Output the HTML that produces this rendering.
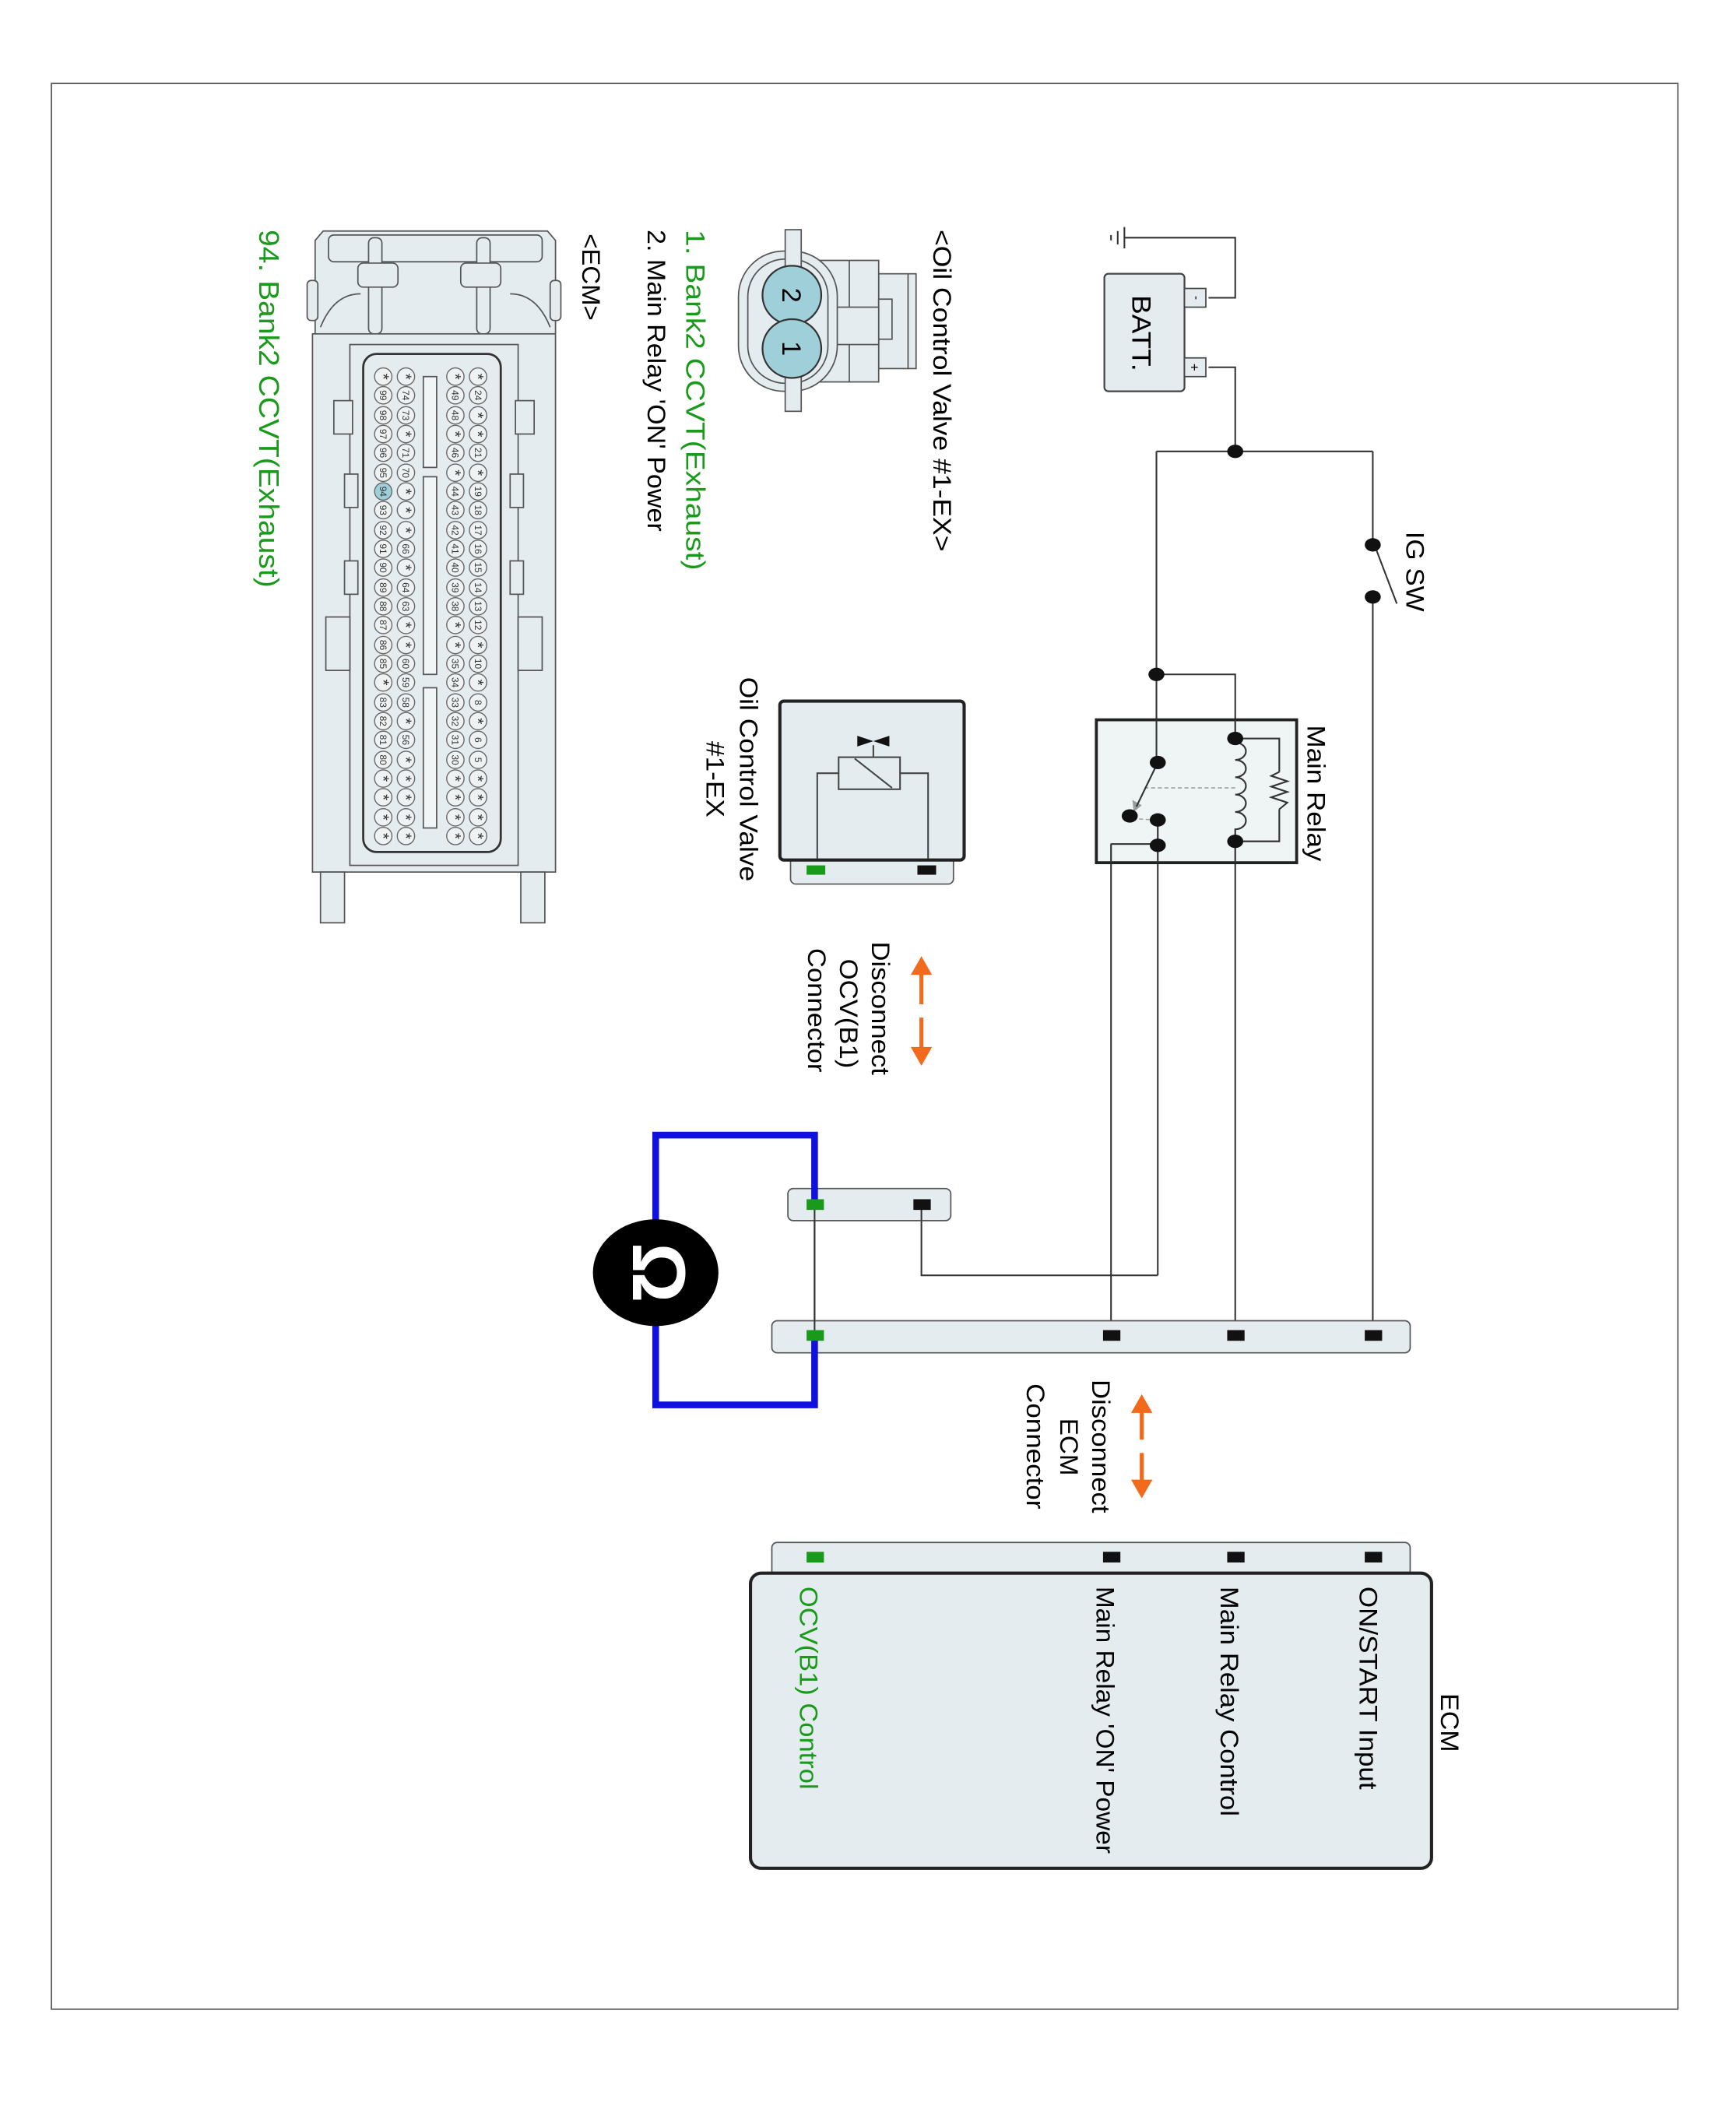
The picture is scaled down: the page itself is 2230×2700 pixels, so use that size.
<!DOCTYPE html>
<html><head><meta charset="utf-8"><style>
html,body{margin:0;padding:0;background:#fff;}
svg{display:block;}
text{font-family:"Liberation Sans",sans-serif;}
.p circle{fill:#eef2f3;stroke:#666;stroke-width:0.8;}
.p text{font-size:7px;text-anchor:middle;fill:#333;}
.s text{font-size:12px;}
</style></head><body>
<svg width="2230" height="2700" viewBox="0 0 1300 1574" preserveAspectRatio="none" xmlns="http://www.w3.org/2000/svg">
<rect x="0" y="0" width="1300" height="1574" fill="#fff"/>
<rect x="38.5" y="62.5" width="1218" height="1442" fill="none" stroke="#555" stroke-width="1"/>

<!-- Battery -->
<g stroke="#333" stroke-width="1.2" fill="none">
<polyline points="905,223 925,223 925,178 842,178"/>
<line x1="842" y1="170" x2="842" y2="186"/><line x1="837" y1="173" x2="837" y2="183"/><line x1="832" y1="176" x2="832" y2="180"/>
<polyline points="905,275 925,275 925,338"/>
<line x1="866" y1="338" x2="1028" y2="338"/>
<line x1="1028" y1="338" x2="1028" y2="408"/>
<line x1="1030" y1="410" x2="1046" y2="452"/>
<line x1="1028" y1="447" x2="1028" y2="1000"/>
<line x1="866" y1="338" x2="866" y2="571"/>
<polyline points="866,505 925,505 925,553"/>
<polyline points="925,553 958,553 958,578"/>
<polyline points="958,606 958,630 925,630"/>
<polyline points="958,578 952,581 964,585 952,589 964,593 952,597 964,601 958,606"/>
<path d="M925,556 a8,6.5 0 0 1 0,13 a8,6.5 0 0 1 0,13 a8,6.5 0 0 1 0,13 a8,6.5 0 0 1 0,13 a8,6.5 0 0 1 0,13 L925,630"/>
<line x1="925" y1="630" x2="925" y2="1000"/>
<line x1="867" y1="571" x2="851" y2="604"/>
<line x1="925" y1="590" x2="856" y2="590" stroke-dasharray="3,2" stroke-width="0.9"/>
<line x1="848" y1="613" x2="866" y2="614" stroke-dasharray="3,2" stroke-width="0.9"/>
<line x1="867" y1="614" x2="867" y2="955"/>
<polyline points="867,632 832,632 832,1000"/>
<polyline points="867,955 690,955 690,902"/>
<line x1="610" y1="902" x2="610" y2="1000"/>
</g>
<polygon points="849,608 848,599 855,603" fill="#222"/>
<rect x="827" y="205" width="60" height="88" rx="3" fill="#e4ecef" stroke="#444" stroke-width="1.3"/>
<rect x="887" y="216" width="16" height="14" fill="#e4ecef" stroke="#444" stroke-width="1"/>
<rect x="887" y="268" width="16" height="14" fill="#e4ecef" stroke="#444" stroke-width="1"/>
<text transform="translate(893,223) rotate(90)" font-size="9" text-anchor="middle">-</text>
<text transform="translate(891,275) rotate(90)" font-size="10" text-anchor="middle">+</text>
<text transform="translate(848,221) rotate(90)" font-size="20" textLength="57" lengthAdjust="spacingAndGlyphs">BATT.</text>
<g fill="#111">
<ellipse cx="925" cy="338" rx="6" ry="5"/>
<ellipse cx="1028" cy="408" rx="6" ry="5"/><ellipse cx="1028" cy="447" rx="6" ry="5"/>
<ellipse cx="866" cy="505" rx="6" ry="5"/>
</g>
<text transform="translate(1053,398) rotate(90)" font-size="19" textLength="60" lengthAdjust="spacingAndGlyphs">IG SW</text>

<!-- Main relay -->
<rect x="821" y="539" width="150" height="107" fill="#e4ecef" fill-opacity="0.6" stroke="#222" stroke-width="2.2"/>
<g stroke="#333" stroke-width="1.2" fill="none">
<line x1="866" y1="539" x2="866" y2="571"/><line x1="925" y1="539" x2="925" y2="553"/>
<path d="M925,556 a8,6.5 0 0 1 0,13 a8,6.5 0 0 1 0,13 a8,6.5 0 0 1 0,13 a8,6.5 0 0 1 0,13 a8,6.5 0 0 1 0,13 L925,630"/>
<polyline points="925,553 958,553 958,578"/><polyline points="958,606 958,630 925,630"/>
<polyline points="958,578 952,581 964,585 952,589 964,593 952,597 964,601 958,606"/>
<line x1="867" y1="571" x2="851" y2="604"/>
<line x1="867" y1="614" x2="867" y2="646"/><line x1="832" y1="632" x2="867" y2="632"/><line x1="832" y1="632" x2="832" y2="646"/><line x1="925" y1="630" x2="925" y2="646"/>
</g>
<g fill="#111">
<ellipse cx="925" cy="553" rx="6" ry="5"/><ellipse cx="925" cy="630" rx="6" ry="5"/>
<ellipse cx="867" cy="571" rx="6" ry="5"/><ellipse cx="846" cy="611" rx="6" ry="5"/>
<ellipse cx="867" cy="614" rx="6" ry="5"/><ellipse cx="867" cy="633" rx="6" ry="5"/>
</g>
<text transform="translate(979,543) rotate(90)" font-size="19" textLength="102" lengthAdjust="spacingAndGlyphs">Main Relay</text>

<!-- OCV component -->
<rect x="592" y="640" width="122" height="22" rx="4" fill="#e4ecef" stroke="#555" stroke-width="1"/>
<rect x="584" y="525" width="138" height="119" rx="3" fill="#e4ecef" stroke="#222" stroke-width="2.4"/>
<g stroke="#444" stroke-width="1.2" fill="none">
<polyline points="612,643 612,579 628,579"/><polyline points="695,643 695,579 674,579"/>
<rect x="628" y="567" width="46" height="24" fill="#e4ecef"/>
<line x1="640" y1="568" x2="668" y2="590"/>
<line x1="654" y1="558" x2="654" y2="567"/>
</g>
<polygon points="642,551 654,555 666,551 666,559 654,555 642,559" fill="#111"/>
<rect x="604" y="648" width="14" height="7" fill="#1a9a1a"/>
<rect x="687" y="648" width="14" height="7" fill="#111"/>
<text transform="translate(554,507) rotate(90)" font-size="19" textLength="153" lengthAdjust="spacingAndGlyphs">Oil Control Valve</text>
<text transform="translate(529,555) rotate(90)" font-size="19" textLength="57" lengthAdjust="spacingAndGlyphs">#1-EX</text>

<!-- Disconnect OCV -->
<g fill="#f26a1b" stroke="#f26a1b">
<line x1="690" y1="752" x2="690" y2="728" stroke-width="3"/><polygon points="682,730 698,730 690,716" stroke="none"/>
<line x1="690" y1="762" x2="690" y2="786" stroke-width="3"/><polygon points="682,784 698,784 690,798" stroke="none"/>
<line x1="855" y1="1078" x2="855" y2="1056" stroke-width="3"/><polygon points="847,1058 863,1058 855,1044" stroke="none"/>
<line x1="855" y1="1088" x2="855" y2="1110" stroke-width="3"/><polygon points="847,1108 863,1108 855,1122" stroke="none"/>
</g>
<text transform="translate(653,705) rotate(90)" font-size="19" textLength="100" lengthAdjust="spacingAndGlyphs">Disconnect</text>
<text transform="translate(629,718) rotate(90)" font-size="19" textLength="82" lengthAdjust="spacingAndGlyphs">OCV(B1)</text>
<text transform="translate(605,710) rotate(90)" font-size="19" textLength="93" lengthAdjust="spacingAndGlyphs">Connector</text>
<text transform="translate(818,1033) rotate(90)" font-size="19" textLength="100" lengthAdjust="spacingAndGlyphs">Disconnect</text>
<text transform="translate(794,1062) rotate(90)" font-size="19" textLength="43" lengthAdjust="spacingAndGlyphs">ECM</text>
<text transform="translate(769,1036) rotate(90)" font-size="19" textLength="94" lengthAdjust="spacingAndGlyphs">Connector</text>

<!-- connectors -->
<rect x="590" y="890" width="122" height="24" rx="4" fill="#e4ecef" stroke="#555" stroke-width="1"/>
<rect x="578" y="989" width="478" height="24" rx="4" fill="#e4ecef" stroke="#555" stroke-width="1"/>
<g stroke="#333" stroke-width="1.2"><line x1="610" y1="902" x2="610" y2="1000"/><line x1="690" y1="902" x2="690" y2="914"/></g>
<polyline points="610,902 610,850 491,850 491,1052 610,1052 610,1000" fill="none" stroke="#1111dd" stroke-width="5"/>
<rect x="604" y="898" width="13" height="8" fill="#1a9a1a"/>
<rect x="684" y="898" width="13" height="8" fill="#111"/>
<rect x="604" y="996" width="13" height="8" fill="#1a9a1a"/>
<rect x="826" y="996" width="13" height="8" fill="#111"/>
<rect x="919" y="996" width="13" height="8" fill="#111"/>
<rect x="1022" y="996" width="13" height="8" fill="#111"/>
<ellipse cx="491" cy="953" rx="47" ry="40" fill="#000"/>
<text transform="translate(474,953) rotate(90)" font-size="56" font-weight="bold" fill="#fff" text-anchor="middle">Ω</text>

<!-- ECM box -->
<rect x="578" y="1155" width="478" height="28" rx="4" fill="#e4ecef" stroke="#555" stroke-width="1"/>
<rect x="562" y="1178" width="510" height="221" rx="8" fill="#e4ecef" stroke="#222" stroke-width="2.4"/>
<rect x="604" y="1162" width="13" height="8" fill="#1a9a1a"/>
<rect x="826" y="1162" width="13" height="8" fill="#111"/>
<rect x="919" y="1162" width="13" height="8" fill="#111"/>
<rect x="1022" y="1162" width="13" height="8" fill="#111"/>
<text transform="translate(1079,1268) rotate(90)" font-size="19" textLength="44" lengthAdjust="spacingAndGlyphs">ECM</text>
<text transform="translate(1018,1188) rotate(90)" font-size="19" textLength="152" lengthAdjust="spacingAndGlyphs">ON/START Input</text>
<text transform="translate(914,1188) rotate(90)" font-size="19" textLength="172" lengthAdjust="spacingAndGlyphs">Main Relay Control</text>
<text transform="translate(821,1188) rotate(90)" font-size="19" textLength="200" lengthAdjust="spacingAndGlyphs">Main Relay 'ON' Power</text>
<text transform="translate(599,1188) rotate(90)" font-size="19" fill="#1a9a1a" textLength="152" lengthAdjust="spacingAndGlyphs">OCV(B1) Control</text>

<!-- Oil connector picture -->
<g stroke="#555" stroke-width="1" fill="#e4ecef">
<rect x="658" y="205" width="28" height="71"/>
<line x1="680" y1="205" x2="680" y2="276"/>
<rect x="606" y="195" width="52" height="91"/>
<line x1="636" y1="195" x2="636" y2="286"/>
<rect x="658" y="224" width="10" height="30"/>
<rect x="620" y="230" width="38" height="28"/>
<rect x="553" y="188" width="74" height="105" rx="34"/>
<rect x="560" y="194" width="60" height="93" rx="28"/>
<rect x="588" y="172" width="12" height="136"/>
</g>
<circle cx="593" cy="221" r="22" fill="#9fcfd9" stroke="#333" stroke-width="1.3"/>
<circle cx="593" cy="261" r="22" fill="#9fcfd9" stroke="#333" stroke-width="1.3"/>
<text transform="translate(586,221) rotate(90)" font-size="20" text-anchor="middle">2</text>
<text transform="translate(586,261) rotate(90)" font-size="20" text-anchor="middle">1</text>
<text transform="translate(699,172) rotate(90)" font-size="19" textLength="241" lengthAdjust="spacingAndGlyphs">&lt;Oil Control Valve #1-EX&gt;</text>
<text transform="translate(514,172) rotate(90)" font-size="20" fill="#1a9a1a" textLength="255" lengthAdjust="spacingAndGlyphs">1. Bank2 CCVT(Exhaust)</text>
<text transform="translate(485,172) rotate(90)" font-size="19" textLength="226" lengthAdjust="spacingAndGlyphs">2. Main Relay 'ON' Power</text>
<text transform="translate(436,175) rotate(90)" font-size="19" textLength="65" lengthAdjust="spacingAndGlyphs">&lt;ECM&gt;</text>
<text transform="translate(194,172) rotate(90)" font-size="21" fill="#1a9a1a" textLength="268" lengthAdjust="spacingAndGlyphs">94. Bank2 CCVT(Exhaust)</text>

<!-- ECM connector picture -->
<g stroke="#555" stroke-width="1" fill="#e4ecef">
<path d="M236,180 L242,173 L410,173 L416,180 L416,250 L236,250 Z"/>
<rect x="246" y="176" width="160" height="20" rx="4" fill="none"/>
<rect x="276" y="178" width="10" height="72" rx="4"/><rect x="357" y="178" width="10" height="72" rx="4"/>
<rect x="268" y="197" width="30" height="18" rx="4"/><rect x="345" y="197" width="30" height="18" rx="4"/>
<rect x="230" y="210" width="8" height="30" rx="3"/><rect x="412" y="210" width="8" height="30" rx="3"/>
<path d="M240,245 q10,-25 30,-25" fill="none"/><path d="M412,245 q-10,-25 -30,-25" fill="none"/>
<rect x="234" y="250" width="182" height="403"/>
<rect x="262" y="258" width="126" height="390" fill="none"/>
<rect x="240" y="653" width="18" height="38"/><rect x="390" y="653" width="18" height="38"/>
<rect x="244" y="462" width="18" height="40"/><rect x="388" y="462" width="18" height="40"/>
<rect x="250" y="300" width="14" height="25"/><rect x="386" y="300" width="14" height="25"/>
<rect x="258" y="355" width="10" height="25"/><rect x="382" y="355" width="10" height="25"/>
<rect x="258" y="420" width="10" height="25"/><rect x="382" y="420" width="10" height="25"/>
<rect x="272" y="265" width="103" height="373" rx="10" stroke="#333" stroke-width="1.6"/>
<rect x="317" y="282" width="10" height="68" fill="#f2f5f6"/>
<rect x="317" y="357" width="10" height="148" fill="#f2f5f6"/>
<rect x="317" y="515" width="10" height="105" fill="#f2f5f6"/>
</g>
<g class="p">
<!-- Row A x=358 -->
<g transform="translate(358,282) rotate(90)" class="s"><circle r="6.5"/><text y="4">*</text></g>
<g transform="translate(358,296) rotate(90)"><circle r="6.5"/><text y="2.5">24</text></g>
<g transform="translate(358,311) rotate(90)" class="s"><circle r="6.5"/><text y="4">*</text></g>
<g transform="translate(358,325) rotate(90)" class="s"><circle r="6.5"/><text y="4">*</text></g>
<g transform="translate(358,339) rotate(90)"><circle r="6.5"/><text y="2.5">21</text></g>
<g transform="translate(358,354) rotate(90)" class="s"><circle r="6.5"/><text y="4">*</text></g>
<g transform="translate(358,368) rotate(90)"><circle r="6.5"/><text y="2.5">19</text></g>
<g transform="translate(358,382) rotate(90)"><circle r="6.5"/><text y="2.5">18</text></g>
<g transform="translate(358,397) rotate(90)"><circle r="6.5"/><text y="2.5">17</text></g>
<g transform="translate(358,411) rotate(90)"><circle r="6.5"/><text y="2.5">16</text></g>
<g transform="translate(358,425) rotate(90)"><circle r="6.5"/><text y="2.5">15</text></g>
<g transform="translate(358,440) rotate(90)"><circle r="6.5"/><text y="2.5">14</text></g>
<g transform="translate(358,454) rotate(90)"><circle r="6.5"/><text y="2.5">13</text></g>
<g transform="translate(358,468) rotate(90)"><circle r="6.5"/><text y="2.5">12</text></g>
<g transform="translate(358,483) rotate(90)" class="s"><circle r="6.5"/><text y="4">*</text></g>
<g transform="translate(358,497) rotate(90)"><circle r="6.5"/><text y="2.5">10</text></g>
<g transform="translate(358,511) rotate(90)" class="s"><circle r="6.5"/><text y="4">*</text></g>
<g transform="translate(358,526) rotate(90)"><circle r="6.5"/><text y="2.5">8</text></g>
<g transform="translate(358,540) rotate(90)" class="s"><circle r="6.5"/><text y="4">*</text></g>
<g transform="translate(358,554) rotate(90)"><circle r="6.5"/><text y="2.5">6</text></g>
<g transform="translate(358,569) rotate(90)"><circle r="6.5"/><text y="2.5">5</text></g>
<g transform="translate(358,583) rotate(90)" class="s"><circle r="6.5"/><text y="4">*</text></g>
<g transform="translate(358,597) rotate(90)" class="s"><circle r="6.5"/><text y="4">*</text></g>
<g transform="translate(358,612) rotate(90)" class="s"><circle r="6.5"/><text y="4">*</text></g>
<g transform="translate(358,626) rotate(90)" class="s"><circle r="6.5"/><text y="4">*</text></g>
<!-- Row B x=341 -->
<g transform="translate(341,282) rotate(90)" class="s"><circle r="6.5"/><text y="4">*</text></g>
<g transform="translate(341,296) rotate(90)"><circle r="6.5"/><text y="2.5">49</text></g>
<g transform="translate(341,311) rotate(90)"><circle r="6.5"/><text y="2.5">48</text></g>
<g transform="translate(341,325) rotate(90)" class="s"><circle r="6.5"/><text y="4">*</text></g>
<g transform="translate(341,339) rotate(90)"><circle r="6.5"/><text y="2.5">46</text></g>
<g transform="translate(341,354) rotate(90)" class="s"><circle r="6.5"/><text y="4">*</text></g>
<g transform="translate(341,368) rotate(90)"><circle r="6.5"/><text y="2.5">44</text></g>
<g transform="translate(341,382) rotate(90)"><circle r="6.5"/><text y="2.5">43</text></g>
<g transform="translate(341,397) rotate(90)"><circle r="6.5"/><text y="2.5">42</text></g>
<g transform="translate(341,411) rotate(90)"><circle r="6.5"/><text y="2.5">41</text></g>
<g transform="translate(341,425) rotate(90)"><circle r="6.5"/><text y="2.5">40</text></g>
<g transform="translate(341,440) rotate(90)"><circle r="6.5"/><text y="2.5">39</text></g>
<g transform="translate(341,454) rotate(90)"><circle r="6.5"/><text y="2.5">38</text></g>
<g transform="translate(341,468) rotate(90)" class="s"><circle r="6.5"/><text y="4">*</text></g>
<g transform="translate(341,483) rotate(90)" class="s"><circle r="6.5"/><text y="4">*</text></g>
<g transform="translate(341,497) rotate(90)"><circle r="6.5"/><text y="2.5">35</text></g>
<g transform="translate(341,511) rotate(90)"><circle r="6.5"/><text y="2.5">34</text></g>
<g transform="translate(341,526) rotate(90)"><circle r="6.5"/><text y="2.5">33</text></g>
<g transform="translate(341,540) rotate(90)"><circle r="6.5"/><text y="2.5">32</text></g>
<g transform="translate(341,554) rotate(90)"><circle r="6.5"/><text y="2.5">31</text></g>
<g transform="translate(341,569) rotate(90)"><circle r="6.5"/><text y="2.5">30</text></g>
<g transform="translate(341,583) rotate(90)" class="s"><circle r="6.5"/><text y="4">*</text></g>
<g transform="translate(341,597) rotate(90)" class="s"><circle r="6.5"/><text y="4">*</text></g>
<g transform="translate(341,612) rotate(90)" class="s"><circle r="6.5"/><text y="4">*</text></g>
<g transform="translate(341,626) rotate(90)" class="s"><circle r="6.5"/><text y="4">*</text></g>
<!-- Row C x=304 -->
<g transform="translate(304,282) rotate(90)" class="s"><circle r="6.5"/><text y="4">*</text></g>
<g transform="translate(304,296) rotate(90)"><circle r="6.5"/><text y="2.5">74</text></g>
<g transform="translate(304,311) rotate(90)"><circle r="6.5"/><text y="2.5">73</text></g>
<g transform="translate(304,325) rotate(90)" class="s"><circle r="6.5"/><text y="4">*</text></g>
<g transform="translate(304,339) rotate(90)"><circle r="6.5"/><text y="2.5">71</text></g>
<g transform="translate(304,354) rotate(90)"><circle r="6.5"/><text y="2.5">70</text></g>
<g transform="translate(304,368) rotate(90)" class="s"><circle r="6.5"/><text y="4">*</text></g>
<g transform="translate(304,382) rotate(90)" class="s"><circle r="6.5"/><text y="4">*</text></g>
<g transform="translate(304,397) rotate(90)" class="s"><circle r="6.5"/><text y="4">*</text></g>
<g transform="translate(304,411) rotate(90)"><circle r="6.5"/><text y="2.5">66</text></g>
<g transform="translate(304,425) rotate(90)" class="s"><circle r="6.5"/><text y="4">*</text></g>
<g transform="translate(304,440) rotate(90)"><circle r="6.5"/><text y="2.5">64</text></g>
<g transform="translate(304,454) rotate(90)"><circle r="6.5"/><text y="2.5">63</text></g>
<g transform="translate(304,468) rotate(90)" class="s"><circle r="6.5"/><text y="4">*</text></g>
<g transform="translate(304,483) rotate(90)" class="s"><circle r="6.5"/><text y="4">*</text></g>
<g transform="translate(304,497) rotate(90)"><circle r="6.5"/><text y="2.5">60</text></g>
<g transform="translate(304,511) rotate(90)"><circle r="6.5"/><text y="2.5">59</text></g>
<g transform="translate(304,526) rotate(90)"><circle r="6.5"/><text y="2.5">58</text></g>
<g transform="translate(304,540) rotate(90)" class="s"><circle r="6.5"/><text y="4">*</text></g>
<g transform="translate(304,554) rotate(90)"><circle r="6.5"/><text y="2.5">56</text></g>
<g transform="translate(304,569) rotate(90)" class="s"><circle r="6.5"/><text y="4">*</text></g>
<g transform="translate(304,583) rotate(90)" class="s"><circle r="6.5"/><text y="4">*</text></g>
<g transform="translate(304,597) rotate(90)" class="s"><circle r="6.5"/><text y="4">*</text></g>
<g transform="translate(304,612) rotate(90)" class="s"><circle r="6.5"/><text y="4">*</text></g>
<g transform="translate(304,626) rotate(90)" class="s"><circle r="6.5"/><text y="4">*</text></g>
<!-- Row D x=287 -->
<g transform="translate(287,282) rotate(90)" class="s"><circle r="6.5"/><text y="4">*</text></g>
<g transform="translate(287,296) rotate(90)"><circle r="6.5"/><text y="2.5">99</text></g>
<g transform="translate(287,311) rotate(90)"><circle r="6.5"/><text y="2.5">98</text></g>
<g transform="translate(287,325) rotate(90)"><circle r="6.5"/><text y="2.5">97</text></g>
<g transform="translate(287,339) rotate(90)"><circle r="6.5"/><text y="2.5">96</text></g>
<g transform="translate(287,354) rotate(90)"><circle r="6.5"/><text y="2.5">95</text></g>
<g transform="translate(287,368) rotate(90)"><circle r="6.5" style="fill:#9fcfd9"/><text y="2.5">94</text></g>
<g transform="translate(287,382) rotate(90)"><circle r="6.5"/><text y="2.5">93</text></g>
<g transform="translate(287,397) rotate(90)"><circle r="6.5"/><text y="2.5">92</text></g>
<g transform="translate(287,411) rotate(90)"><circle r="6.5"/><text y="2.5">91</text></g>
<g transform="translate(287,425) rotate(90)"><circle r="6.5"/><text y="2.5">90</text></g>
<g transform="translate(287,440) rotate(90)"><circle r="6.5"/><text y="2.5">89</text></g>
<g transform="translate(287,454) rotate(90)"><circle r="6.5"/><text y="2.5">88</text></g>
<g transform="translate(287,468) rotate(90)"><circle r="6.5"/><text y="2.5">87</text></g>
<g transform="translate(287,483) rotate(90)"><circle r="6.5"/><text y="2.5">86</text></g>
<g transform="translate(287,497) rotate(90)"><circle r="6.5"/><text y="2.5">85</text></g>
<g transform="translate(287,511) rotate(90)" class="s"><circle r="6.5"/><text y="4">*</text></g>
<g transform="translate(287,526) rotate(90)"><circle r="6.5"/><text y="2.5">83</text></g>
<g transform="translate(287,540) rotate(90)"><circle r="6.5"/><text y="2.5">82</text></g>
<g transform="translate(287,554) rotate(90)"><circle r="6.5"/><text y="2.5">81</text></g>
<g transform="translate(287,569) rotate(90)"><circle r="6.5"/><text y="2.5">80</text></g>
<g transform="translate(287,583) rotate(90)" class="s"><circle r="6.5"/><text y="4">*</text></g>
<g transform="translate(287,597) rotate(90)" class="s"><circle r="6.5"/><text y="4">*</text></g>
<g transform="translate(287,612) rotate(90)" class="s"><circle r="6.5"/><text y="4">*</text></g>
<g transform="translate(287,626) rotate(90)" class="s"><circle r="6.5"/><text y="4">*</text></g>
</g>
</svg>
</body></html>
